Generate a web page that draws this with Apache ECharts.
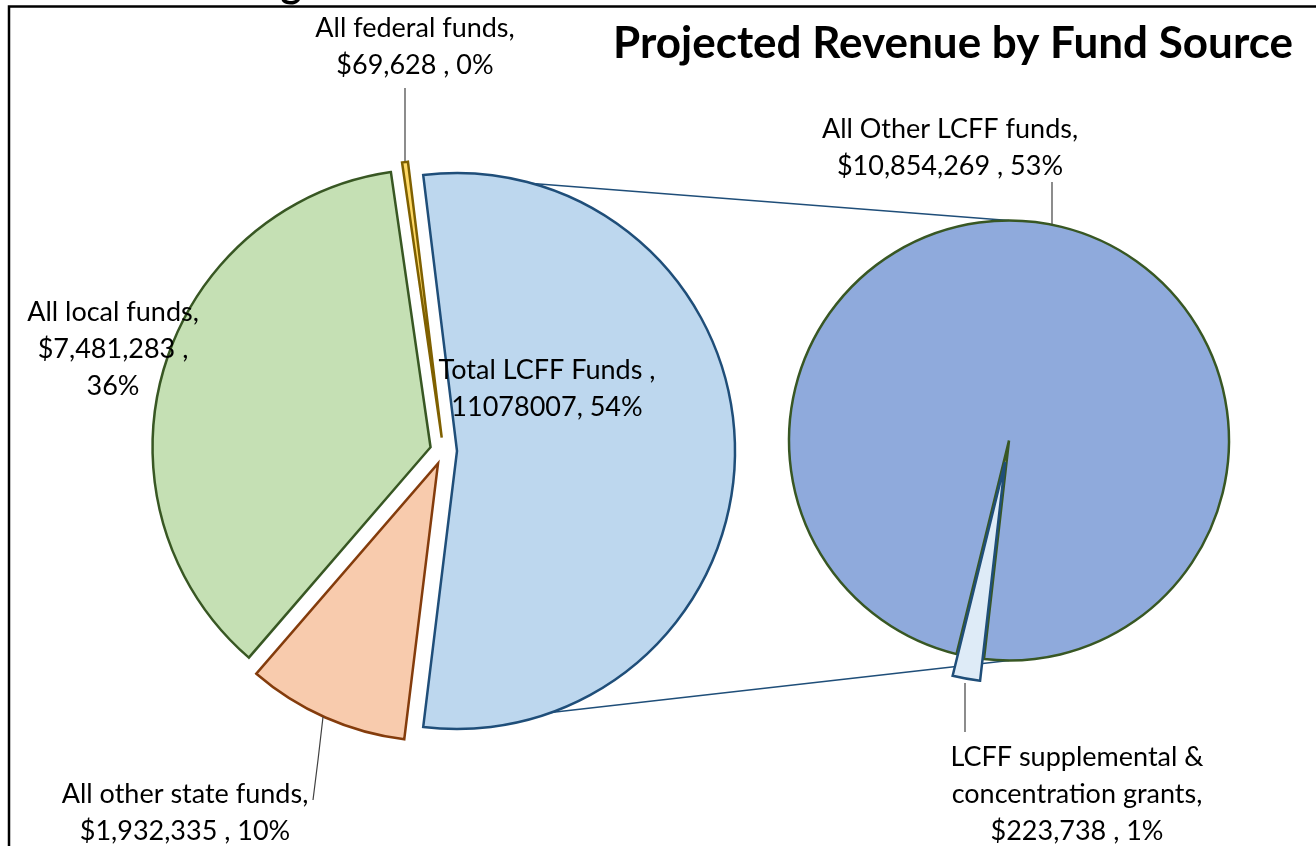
<!DOCTYPE html>
<html>
<head>
<meta charset="utf-8">
<title>Projected Revenue by Fund Source</title>
<script src="https://cdn.jsdelivr.net/npm/echarts@6/dist/echarts.min.js"></script>
<style>
html,body{margin:0;padding:0;background:#fff;}
#tu_1{width:1316px;height:846px;}
</style>
</head>
<body>
<div id="tu_1"></div>
<script>
// main pie (all revenue)
var names_1 = ['Total LCFF Funds', 'All other state funds', 'All local funds', 'All federal funds'];
var values_1 = [11078007, 1932335, 7481283, 69628];
// second pie (split of Total LCFF Funds)
var names_2 = ['All Other LCFF funds', 'LCFF supplemental & concentration grants'];
var values_2 = [10854269, 223738];

var fill_1 = ['#BDD7EE', '#F8CBAD', '#C5E0B4', '#FFD966'];
var line_1 = ['#1F4E79', '#843C0C', '#385723', '#7F6000'];
var fill_2 = ['#8FAADC', '#DEEBF7'];
var line_2 = ['#385723', '#1F4E79'];

var FONT = 'Lato, "Open Sans", sans-serif';

// layout of the two pies (px)
var C1 = [443.5, 451], R1 = 278, OFF1 = 13.5;
var C2 = [1009, 440.5], R2 = 220, OFF2 = 22;

var total = 0;
for (var i = 0; i < values_1.length; i++) total += values_1[i];
var start_1 = values_1[0] / total * 360 / 2;   // LCFF slice centred on the right side
var start_2 = 256.2;                            // small slice points down-left

function money(v) {
	return '$' + String(v).replace(/\B(?=(\d{3})+(?!\d))/g, ',');
}
function labelText(p) {
	var name = p.name, v = p.value;
	// first pie: ECharts percent (largest remainder), second pie: share of grand total
	var pc = (p.seriesIndex == 2 ? p.percent : Math.round(v / total * 100)) + '%';
	if (name == 'Total LCFF Funds') return 'Total LCFF Funds ,\n' + v + ', ' + pc;
	if (name == 'All local funds') return 'All local funds,\n' + money(v) + ' ,\n' + pc;
	if (name == 'LCFF supplemental & concentration grants') return 'LCFF supplemental &\nconcentration grants,\n' + money(v) + ' , ' + pc;
	return name + ',\n' + money(v) + ' , ' + pc;
}

// label anchor (centre of text block) and leader lines
var labelPos = {
	'All federal funds': [415, 47],
	'All local funds': [113, 349],
	'Total LCFF Funds': [547, 389],
	'All other state funds': [185, 813],
	'All Other LCFF funds': [950, 148],
	'LCFF supplemental & concentration grants': [1077, 794]
};
var leader = {
	'All federal funds': [[405, 88], [405, 120], [405, 161]],
	'All other state funds': [[313, 800], [318, 760], [323, 717]],
	'All Other LCFF funds': [[1052, 182], [1052, 200], [1052, 224]],
	'LCFF supplemental & concentration grants': [[965, 732], [965, 710], [965, 683]]
};

// slices (exploded with selected offset), no labels
function sliceData(names, values, fills, lines, sel) {
	var arr = [];
	for (var i = 0; i < names.length; i++) {
		arr.push({
			name: names[i],
			value: values[i],
			selected: sel[i],
			itemStyle: {color: fills[i], borderColor: lines[i]}
		});
	}
	return arr;
}
// same values, invisible, carrying the labels
function labelData(names, values) {
	var arr = [];
	for (var i = 0; i < names.length; i++) {
		arr.push({
			name: names[i],
			value: values[i],
			labelLine: {show: !!leader[names[i]]}
		});
	}
	return arr;
}

function layoutLabel(params) {
	var name = (params.seriesIndex == 2 ? names_1 : names_2)[params.dataIndex];
	var p = labelPos[name];
	var out = {x: p[0], y: p[1], align: 'center', verticalAlign: 'middle'};
	if (leader[name]) out.labelLinePoints = leader[name];
	return out;
}

function sliceSeries(center, r, start, off, data) {
	return {
		type: 'pie',
		z: 2,
		center: center,
		radius: r,
		startAngle: start,
		clockwise: true,
		selectedMode: 'multiple',
		selectedOffset: off,
		itemStyle: {borderWidth: 2.5, borderJoin: 'miter'},
		emphasis: {disabled: true},
		label: {show: false},
		labelLine: {show: false},
		data: data
	};
}
function labelSeries(center, r, start, data) {
	return {
		type: 'pie',
		z: 3,
		silent: true,
		center: center,
		radius: r,
		startAngle: start,
		clockwise: true,
		percentPrecision: 0,
		avoidLabelOverlap: false,
		itemStyle: {color: 'transparent', borderWidth: 0},
		emphasis: {disabled: true},
		label: {
			show: true,
			position: 'outside',
			color: '#000',
			fontFamily: FONT,
			fontSize: 27,
			lineHeight: 37,
			align: 'center',
			formatter: labelText
		},
		labelLine: {lineStyle: {color: '#404040', width: 1.2}},
		labelLayout: layoutLabel,
		data: data
	};
}

// connector lines between the LCFF slice and the second pie
var a = start_1 * Math.PI / 180;
var apex = [C1[0] + OFF1, C1[1]];
var topCorner = [apex[0] + R1 * Math.cos(a), apex[1] - R1 * Math.sin(a)];
var botCorner = [apex[0] + R1 * Math.cos(a), apex[1] + R1 * Math.sin(a)];

var myChart_1 = echarts.init(document.getElementById('tu_1'));
var option = {
	animation: false,
	backgroundColor: '#fff',
	title: {
		text: 'Projected Revenue by Fund Source',
		right: 18,
		top: 17,
		textStyle: {fontFamily: FONT, fontWeight: 'bold', fontSize: 44, color: '#000'}
	},
	graphic: [
		{type: 'rect', z: 0, shape: {x: 9, y: 6.5, width: 1400, height: 900}, style: {fill: 'none', stroke: '#000', lineWidth: 2.5}},
		{type: 'text', z: 0, style: {text: 'g', x: 291, y: 4, fontSize: 40, fontWeight: 'bold', fontFamily: FONT, textAlign: 'center', textVerticalAlign: 'bottom', fill: '#000'}},
		{type: 'line', z: 1, shape: {x1: topCorner[0], y1: topCorner[1], x2: C2[0], y2: C2[1] - R2}, style: {stroke: '#1F4E79', lineWidth: 1.5}},
		{type: 'line', z: 1, shape: {x1: botCorner[0], y1: botCorner[1], x2: C2[0], y2: C2[1] + R2}, style: {stroke: '#1F4E79', lineWidth: 1.5}}
	],
	series: [
		sliceSeries(C1, R1, start_1, OFF1, sliceData(names_1, values_1, fill_1, line_1, [true, true, true, true])),
		sliceSeries(C2, R2, start_2, OFF2, sliceData(names_2, values_2, fill_2, line_2, [false, true])),
		labelSeries(C1, R1, start_1, labelData(names_1, values_1)),
		labelSeries(C2, R2, start_2, labelData(names_2, values_2))
	]
};

myChart_1.setOption(option);
</script>
</body>
</html>
